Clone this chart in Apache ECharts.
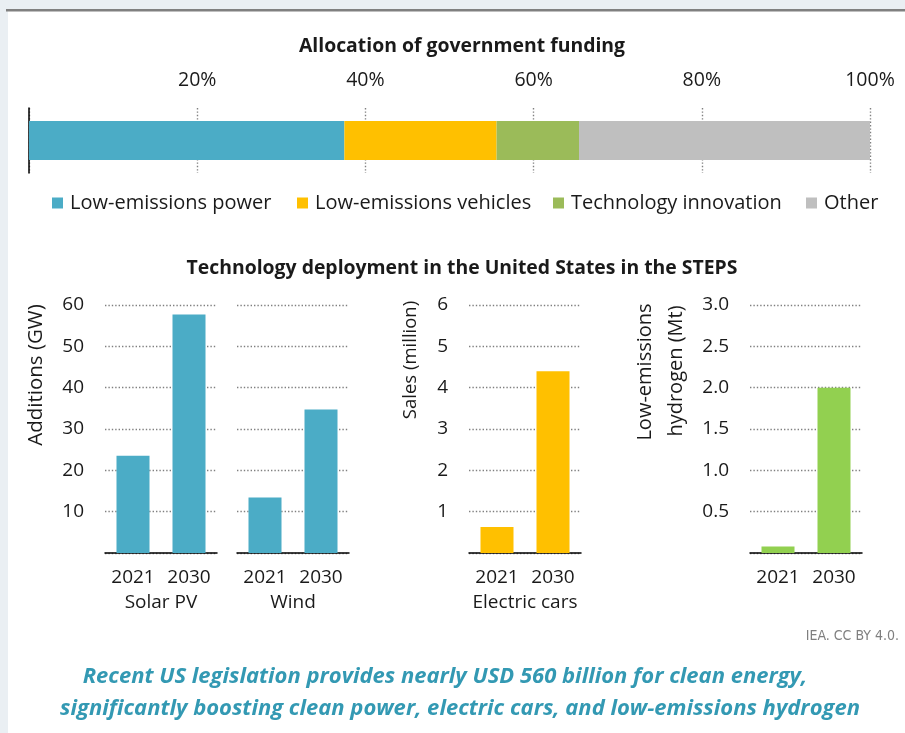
<!DOCTYPE html>
<html>
<head>
<meta charset="utf-8">
<script src="https://cdn.jsdelivr.net/npm/echarts@6/dist/echarts.min.js"></script>
<style>
html,body{margin:0;padding:0;background:#eaeff3;}
#chart{width:905px;height:733px;}
</style>
</head>
<body>
<div id="chart"></div>
<script>
// ---- data ----
const fundingCategories = ['Low-emissions power', 'Low-emissions vehicles', 'Technology innovation', 'Other'];
const fundingShares = [37.5, 18.1, 9.8, 34.6];
const fundingColors = ['#4bacc6', '#ffc000', '#9bbb59', '#bfbfbf'];
const years = ['2021', '2030'];
const solarPV = [23.5, 57.7];
const wind = [13.4, 34.7];
const evSales = [0.63, 4.4];
const hydrogen = [0.08, 2.0];
const groupNames = ['Solar PV', 'Wind', 'Electric cars', ''];

const FONT = '"Open Sans", "Noto Sans", sans-serif';
const chart = echarts.init(document.getElementById('chart'));

const dotted = { color: '#808080', width: 1.4, type: [1.4, 2] };

const bottomGrids = [105, 237, 469, 750].map(l => ({ left: l, width: 112, top: 305, height: 248 }));
const grids = [{ left: 29, width: 841, top: 108, height: 65 }].concat(bottomGrids);

const xAxes = [{
  gridIndex: 0, type: 'value', min: 0, max: 100, interval: 20, position: 'top',
  axisLine: { show: false }, axisTick: { show: false },
  axisLabel: { formatter: '{value}%', showMinLabel: false, margin: 18, fontSize: 19.5, color: '#1a1a1a', fontFamily: FONT },
  splitLine: { show: true, lineStyle: dotted }
}];
groupNames.forEach((g, i) => {
  xAxes.push({
    gridIndex: i + 1, type: 'category', data: years,
    axisLine: { lineStyle: { color: '#000', width: 1.5 } }, axisTick: { show: false },
    axisLabel: { interval: 0, hideOverlap: false, fontSize: 19, color: '#1a1a1a', margin: 15, fontFamily: FONT },
    name: g, nameLocation: 'middle', nameGap: 40,
    nameTextStyle: { fontSize: 19, color: '#1a1a1a', fontFamily: FONT }
  });
});

const yScales = [
  { max: 60, interval: 10, show: true, fmt: v => String(v) },
  { max: 60, interval: 10, show: false, fmt: v => String(v) },
  { max: 6, interval: 1, show: true, fmt: v => String(v) },
  { max: 3, interval: 0.5, show: true, fmt: v => v.toFixed(1) }
];
const yAxes = [{
  gridIndex: 0, type: 'category', data: ['Funding'],
  axisLine: { show: true, lineStyle: { color: '#000', width: 1.5 } },
  axisTick: { show: false }, axisLabel: { show: false }
}];
yScales.forEach((s, i) => {
  yAxes.push({
    gridIndex: i + 1, type: 'value', min: 0, max: s.max, interval: s.interval,
    axisLine: { show: false }, axisTick: { show: false },
    axisLabel: { show: s.show, showMinLabel: false, formatter: s.fmt, margin: 21, fontSize: 19, color: '#1a1a1a', fontFamily: FONT },
    splitLine: { show: true, lineStyle: dotted }
  });
});

const series = fundingCategories.map((name, i) => ({
  name: name, type: 'bar', stack: 'funding', xAxisIndex: 0, yAxisIndex: 0,
  barWidth: 39, data: [fundingShares[i]], itemStyle: { color: fundingColors[i] }
}));
[[solarPV, '#4bacc6'], [wind, '#4bacc6'], [evSales, '#ffc000'], [hydrogen, '#92d050']].forEach((d, i) => {
  series.push({
    name: 'panel' + i, type: 'bar', xAxisIndex: i + 1, yAxisIndex: i + 1,
    barWidth: 33, data: d[0], itemStyle: { color: d[1] }
  });
});

const legendLefts = [52, 297, 553, 806];
const legends = fundingCategories.map((name, i) => ({
  data: [name], left: legendLefts[i], top: 193, padding: 0, icon: 'rect', itemWidth: 11, itemHeight: 11,
  textStyle: { fontSize: 20, color: '#1a1a1a', fontFamily: FONT, padding: [0, 0, 0, 2] },
  selectedMode: false
}));

const txt = (x, y, text, extra) => ({
  type: 'text', x: x, y: y, silent: true,
  style: Object.assign({ text: text, fill: '#1a1a1a', font: '19px ' + FONT, textAlign: 'center', textVerticalAlign: 'middle' }, extra || {})
});

const graphic = [
  { type: 'rect', shape: { x: 8, y: 11, width: 897, height: 722 }, style: { fill: '#ffffff' }, z: -10, silent: true },
  { type: 'rect', shape: { x: 6, y: 9, width: 899, height: 2.5 }, style: { fill: '#808080' }, z: -9, silent: true },
  txt(462, 46, 'Allocation of government funding', { font: 'bold 19.4px ' + FONT }),
  txt(462, 268, 'Technology deployment in the United States in the STEPS', { font: 'bold 19.4px ' + FONT }),
  Object.assign(txt(36, 375, 'Additions (GW)', { font: '20.5px ' + FONT }), { rotation: Math.PI / 2 }),
  Object.assign(txt(411, 360, 'Sales (million)', { font: '18.5px ' + FONT }), { rotation: Math.PI / 2 }),
  Object.assign(txt(645, 372, 'Low-emissions', { font: '20px ' + FONT }), { rotation: Math.PI / 2 }),
  Object.assign(txt(676, 371, 'hydrogen (Mt)', { font: '20px ' + FONT }), { rotation: Math.PI / 2 }),
  txt(899, 636, 'IEA. CC BY 4.0.', { font: '14px "DejaVu Sans Condensed", "Liberation Sans", sans-serif', fill: '#7f7f7f', textAlign: 'right' }),
  txt(445, 677, 'Recent US legislation provides nearly USD 560 billion for clean energy,', { font: 'italic bold 22px "Open Sans", sans-serif', fill: '#3399b3' }),
  txt(460, 709, 'significantly boosting clean power, electric cars, and low-emissions hydrogen', { font: 'italic bold 22px "Open Sans", sans-serif', fill: '#3399b3' })
];

chart.setOption({
  animation: false,
  backgroundColor: 'transparent',
  grid: grids,
  xAxis: xAxes,
  yAxis: yAxes,
  legend: legends,
  series: series,
  graphic: graphic
});
</script>
</body>
</html>
